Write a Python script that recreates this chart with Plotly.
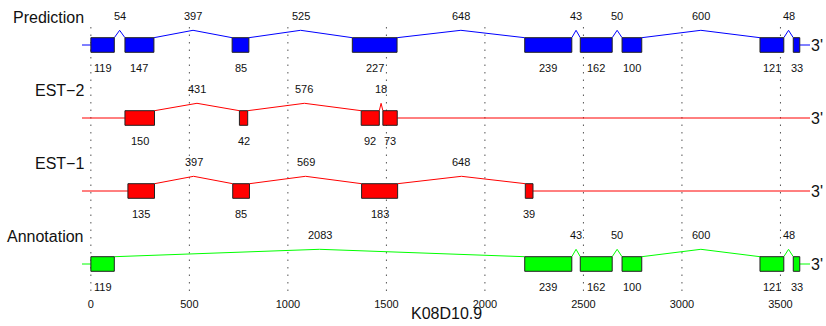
import plotly.graph_objects as go

# Gene models: start position, exon lengths and intron lengths (bp)
tracks = ["Prediction", "EST\u22122", "EST\u22121", "Annotation"]
track_colors = ["#0000FF", "#FF0000", "#FF0000", "#00FF00"]

prediction_start = 0
prediction_exons = [119, 147, 85, 227, 239, 162, 100, 121, 33]
prediction_introns = [54, 397, 525, 648, 43, 50, 600, 48]

est2_start = 173
est2_exons = [150, 42, 92, 73]
est2_introns = [431, 576, 18]

est1_start = 188
est1_exons = [135, 85, 183, 39]
est1_introns = [397, 569, 648]

annotation_start = 0
annotation_exons = [119, 239, 162, 100, 121, 33]
annotation_introns = [2083, 43, 50, 600, 48]

tick_values = [0, 500, 1000, 1500, 2000, 2500, 3000, 3500]
gene_name = "K08D10.9"

starts = [prediction_start, est2_start, est1_start, annotation_start]
exon_sets = [prediction_exons, est2_exons, est1_exons, annotation_exons]
intron_sets = [prediction_introns, est2_introns, est1_introns, annotation_introns]

# layout constants (y axis runs in pixels, top to bottom)
X_MIN, X_MAX = -45, 3655
LINE_END = 3650
Y_BOTTOM = 291
ROW_Y = [45, 118, 191, 264]
HALF_H = 7.3
PEAK = 7.4
TXT = "#111111"
FONT = "Liberation Sans, Arial, sans-serif"

fig = go.Figure()
shapes = []
annotations = []

# dotted vertical guides at each tick
for tv in tick_values:
    shapes.append(dict(type="line", xref="x", yref="y", x0=tv, x1=tv, y0=27, y1=Y_BOTTOM,
                       line=dict(color="#555555", width=1, dash="1.5px,6px"), layer="below"))

for name, color, s0, exons, introns, yc in zip(tracks, track_colors, starts,
                                               exon_sets, intron_sets, ROW_Y):
    # exon coordinates
    pos = s0
    ex = []
    for i, L in enumerate(exons):
        ex.append((pos, pos + L))
        pos += L
        if i < len(introns):
            pos += introns[i]
    top = yc - HALF_H

    xs, ys = [X_MIN, ex[0][0], None, ex[-1][1], LINE_END, None], [yc, yc, None, yc, yc, None]
    for i, L in enumerate(introns):
        a, b = ex[i][1], ex[i + 1][0]
        m = (a + b) / 2
        xs += [a, m, b, None]
        ys += [top, top - PEAK, top, None]
        annotations.append(dict(x=m, y=yc - 29, xref="x", yref="y", text=str(L), showarrow=False,
                                font=dict(size=11, color=TXT, family=FONT)))
    fig.add_trace(go.Scatter(x=xs, y=ys, mode="lines", line=dict(color=color, width=1),
                             hoverinfo="skip", showlegend=False, name=name))

    for (a, b), L in zip(ex, exons):
        shapes.append(dict(type="rect", xref="x", yref="y", x0=a, x1=b, y0=yc - HALF_H, y1=yc + HALF_H,
                           fillcolor=color, line=dict(color="#222222", width=1), layer="above"))
        annotations.append(dict(x=(a + b) / 2, y=yc + 23, xref="x", yref="y", text=str(L),
                                showarrow=False, font=dict(size=11, color=TXT, family=FONT)))

    annotations.append(dict(x=-23, y=yc - 28, xref="x", yref="y", text=name, xanchor="right",
                            showarrow=False, font=dict(size=16, color=TXT, family=FONT)))
    annotations.append(dict(x=LINE_END, y=yc, xref="x", yref="y", text="3'", xanchor="left",
                            showarrow=False, xshift=-1, font=dict(size=16, color=TXT, family=FONT)))

# gene name under the axis
annotations.append(dict(x=0.5, y=(Y_BOTTOM - 313) / Y_BOTTOM, xref="paper", yref="paper",
                        text=gene_name, showarrow=False, yanchor="middle",
                        font=dict(size=16, color=TXT, family=FONT)))

fig.update_layout(
    width=826, height=326,
    margin=dict(l=82, r=15, t=0, b=326 - Y_BOTTOM),
    paper_bgcolor="white", plot_bgcolor="white",
    shapes=shapes, annotations=annotations,
    xaxis=dict(range=[X_MIN, X_MAX], tickvals=tick_values, ticks="", showgrid=False,
               zeroline=False, showline=False, ticklabelstandoff=5,
               tickfont=dict(size=11, color=TXT, family=FONT)),
    yaxis=dict(range=[Y_BOTTOM, 0], visible=False),
)

fig.write_html("out.html")
